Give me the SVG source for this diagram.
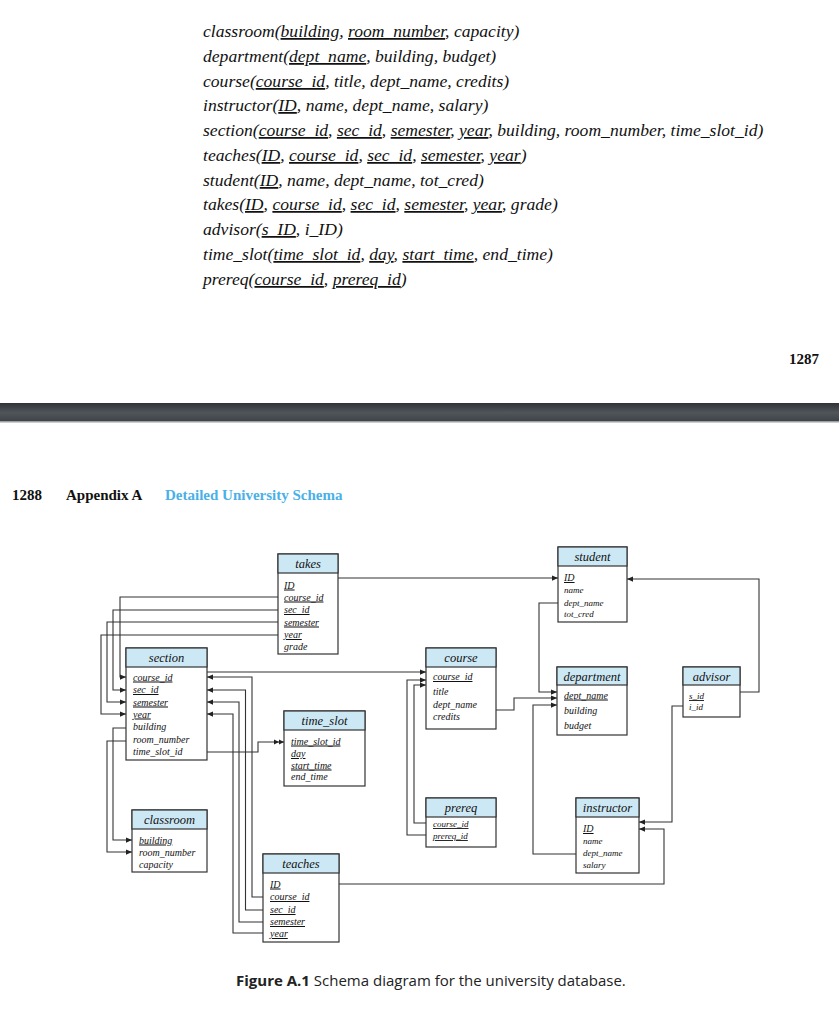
<svg xmlns="http://www.w3.org/2000/svg" width="839" height="1024" viewBox="0 0 839 1024">
<defs>
<style>
.rel{font-family:"Liberation Serif",serif;font-style:italic;font-size:17.6px;fill:#111}
.u{text-decoration:underline}
.hd{font-family:"Liberation Serif",serif;font-style:italic;font-size:12.5px;fill:#111;text-anchor:middle}
.row{font-family:"Liberation Serif",serif;font-style:italic;font-size:10px;fill:#111}
.box{fill:#fff;stroke:#333;stroke-width:1.2}
.hbox{fill:#cde8f5;stroke:#333;stroke-width:1.2}
.c{fill:none;stroke:#333;stroke-width:1.1}
.pg{font-family:"Liberation Serif",serif;font-weight:bold;font-size:15px;fill:#111}
</style>
<marker id="a" viewBox="0 0 8 8" refX="8" refY="4" markerWidth="6" markerHeight="6" orient="auto" markerUnits="userSpaceOnUse"><path d="M0,0.5L8,4L0,7.5z" fill="#222"/></marker>
<marker id="aa" viewBox="0 0 14 8" refX="14" refY="4" markerWidth="10" markerHeight="6" orient="auto" markerUnits="userSpaceOnUse"><path d="M0,0.5L7,4L0,7.5zM7,0.5L14,4L7,7.5z" fill="#222"/></marker>
<linearGradient id="band" x1="0" y1="0" x2="0" y2="1"><stop offset="0" stop-color="#2f3236"/><stop offset="0.5" stop-color="#50555a"/><stop offset="1" stop-color="#3e4246"/></linearGradient>
</defs>
<rect width="839" height="1024" fill="#fff"/>
<g id="relations">
<text class="rel" x="203" y="37">classroom(<tspan class="u">building</tspan>, <tspan class="u">room_number</tspan>, capacity)</text>
<text class="rel" x="203" y="62">department(<tspan class="u">dept_name</tspan>, building, budget)</text>
<text class="rel" x="203" y="87">course(<tspan class="u">course_id</tspan>, title, dept_name, credits)</text>
<text class="rel" x="203" y="111">instructor(<tspan class="u">ID</tspan>, name, dept_name, salary)</text>
<text class="rel" x="203" y="136">section(<tspan class="u">course_id</tspan>, <tspan class="u">sec_id</tspan>, <tspan class="u">semester</tspan>, <tspan class="u">year</tspan>, building, room_number, time_slot_id)</text>
<text class="rel" x="203" y="161">teaches(<tspan class="u">ID</tspan>, <tspan class="u">course_id</tspan>, <tspan class="u">sec_id</tspan>, <tspan class="u">semester</tspan>, <tspan class="u">year</tspan>)</text>
<text class="rel" x="203" y="186">student(<tspan class="u">ID</tspan>, name, dept_name, tot_cred)</text>
<text class="rel" x="203" y="210">takes(<tspan class="u">ID</tspan>, <tspan class="u">course_id</tspan>, <tspan class="u">sec_id</tspan>, <tspan class="u">semester</tspan>, <tspan class="u">year</tspan>, grade)</text>
<text class="rel" x="203" y="235">advisor(<tspan class="u">s_ID</tspan>, i_ID)</text>
<text class="rel" x="203" y="260">time_slot(<tspan class="u">time_slot_id</tspan>, <tspan class="u">day</tspan>, <tspan class="u">start_time</tspan>, end_time)</text>
<text class="rel" x="203" y="285">prereq(<tspan class="u">course_id</tspan>, <tspan class="u">prereq_id</tspan>)</text>
</g>
<text class="pg" x="819" y="364" text-anchor="end">1287</text>
<rect x="0" y="403" width="839" height="19" fill="url(#band)"/>
<rect x="0" y="421" width="839" height="1.5" fill="#9aa0a6"/>
<text class="pg" x="12" y="500">1288</text>
<text class="pg" x="66" y="500">Appendix A</text>
<text class="pg" x="165" y="500" fill="#4ab0e8" style="fill:#4ab0e8">Detailed University Schema</text>

<g id="connectors">
<path class="c" d="M338,578H558" marker-end="url(#a)"/>
<path class="c" d="M278,597H120V677H126" marker-end="url(#a)"/>
<path class="c" d="M278,610H113V690H126" marker-end="url(#a)"/>
<path class="c" d="M278,622H107V702H126" marker-end="url(#a)"/>
<path class="c" d="M278,635H101V714H126" marker-end="url(#a)"/>
<path class="c" d="M207,672H426" marker-end="url(#a)"/>
<path class="c" d="M263,897H252V677H207" marker-end="url(#a)"/>
<path class="c" d="M263,910H245.5V690H207" marker-end="url(#a)"/>
<path class="c" d="M263,922H239V702H207" marker-end="url(#a)"/>
<path class="c" d="M263,933H233V714H207" marker-end="url(#a)"/>
<path class="c" d="M126,728H113V840H132" marker-end="url(#a)"/>
<path class="c" d="M126,741H107V852H132" marker-end="url(#a)"/>
<path class="c" d="M207,752H258V742H284" marker-end="url(#aa)"/>
<path class="c" d="M426,823H414V685H426" marker-end="url(#a)"/>
<path class="c" d="M426,835H407V680H426" marker-end="url(#a)"/>
<path class="c" d="M496,710H514V698H557" marker-end="url(#a)"/>
<path class="c" d="M558,603H539V692H557" marker-end="url(#a)"/>
<path class="c" d="M576,854H533V705H557" marker-end="url(#a)"/>
<path class="c" d="M740,692H759V579H627" marker-end="url(#a)"/>
<path class="c" d="M683,706H672V822H639" marker-end="url(#a)"/>
<path class="c" d="M339,884H664V829H639" marker-end="url(#a)"/>
</g>

<g id="takes">
<rect class="box" x="278" y="554" width="60" height="100"/>
<rect class="hbox" x="278" y="554" width="60" height="19"/>
<text class="hd" x="308" y="568">takes</text>
<text class="row" x="284" y="588.5"><tspan class="u">ID</tspan></text>
<text class="row" x="284" y="600.5"><tspan class="u">course_id</tspan></text>
<text class="row" x="284" y="613"><tspan class="u">sec_id</tspan></text>
<text class="row" x="284" y="625.5"><tspan class="u">semester</tspan></text>
<text class="row" x="284" y="638"><tspan class="u">year</tspan></text>
<text class="row" x="284" y="650">grade</text>
</g>
<g id="section">
<rect class="box" x="126" y="648" width="81" height="112"/>
<rect class="hbox" x="126" y="648" width="81" height="19"/>
<text class="hd" x="166.5" y="662">section</text>
<text class="row" x="133" y="680.5"><tspan class="u">course_id</tspan></text>
<text class="row" x="133" y="693"><tspan class="u">sec_id</tspan></text>
<text class="row" x="133" y="705.5"><tspan class="u">semester</tspan></text>
<text class="row" x="133" y="717.5"><tspan class="u">year</tspan></text>
<text class="row" x="133" y="730">building</text>
<text class="row" x="133" y="742.5">room_number</text>
<text class="row" x="133" y="755">time_slot_id</text>
</g>
<g id="time_slot">
<rect class="box" x="284" y="711" width="81" height="75"/>
<rect class="hbox" x="284" y="711" width="81" height="19"/>
<text class="hd" x="324.5" y="725">time_slot</text>
<text class="row" x="291" y="744.5"><tspan class="u">time_slot_id</tspan></text>
<text class="row" x="291" y="757"><tspan class="u">day</tspan></text>
<text class="row" x="291" y="768.5"><tspan class="u">start_time</tspan></text>
<text class="row" x="291" y="780">end_time</text>
</g>
<g id="student">
<rect class="box" x="558" y="547" width="69" height="75"/>
<rect class="hbox" x="558" y="547" width="69" height="19"/>
<text class="hd" x="592.5" y="561">student</text>
<text class="row" x="564" y="581"><tspan class="u">ID</tspan></text>
<text class="row" x="564" y="593" style="font-size:9px">name</text>
<text class="row" x="564" y="606" style="font-size:9px">dept_name</text>
<text class="row" x="564" y="617" style="font-size:9px">tot_cred</text>
</g>
<g id="course">
<rect class="box" x="426" y="648" width="70" height="81"/>
<rect class="hbox" x="426" y="648" width="70" height="19"/>
<text class="hd" x="461" y="662">course</text>
<text class="row" x="433" y="680"><tspan class="u">course_id</tspan></text>
<text class="row" x="433" y="695">title</text>
<text class="row" x="433" y="707.5">dept_name</text>
<text class="row" x="433" y="720">credits</text>
</g>
<g id="department">
<rect class="box" x="557" y="667" width="70" height="68"/>
<rect class="hbox" x="557" y="667" width="70" height="18"/>
<text class="hd" x="592" y="681">department</text>
<text class="row" x="564" y="698.5"><tspan class="u">dept_name</tspan></text>
<text class="row" x="564" y="714">building</text>
<text class="row" x="564" y="728.5">budget</text>
</g>
<g id="advisor">
<rect class="box" x="683" y="667" width="57" height="50"/>
<rect class="hbox" x="683" y="667" width="57" height="18"/>
<text class="hd" x="711.5" y="681">advisor</text>
<text class="row" x="689" y="699" style="font-size:9px"><tspan class="u">s_id</tspan></text>
<text class="row" x="689" y="710" style="font-size:9px">i_id</text>
</g>
<g id="classroom">
<rect class="box" x="132" y="810" width="75" height="62"/>
<rect class="hbox" x="132" y="810" width="75" height="19"/>
<text class="hd" x="169.5" y="824">classroom</text>
<text class="row" x="139" y="843.5"><tspan class="u">building</tspan></text>
<text class="row" x="139" y="855.5">room_number</text>
<text class="row" x="139" y="867.5">capacity</text>
</g>
<g id="teaches">
<rect class="box" x="263" y="854" width="76" height="88"/>
<rect class="hbox" x="263" y="854" width="76" height="19"/>
<text class="hd" x="301" y="868">teaches</text>
<text class="row" x="270" y="887.5"><tspan class="u">ID</tspan></text>
<text class="row" x="270" y="900"><tspan class="u">course_id</tspan></text>
<text class="row" x="270" y="913"><tspan class="u">sec_id</tspan></text>
<text class="row" x="270" y="925"><tspan class="u">semester</tspan></text>
<text class="row" x="270" y="937"><tspan class="u">year</tspan></text>
</g>
<g id="prereq">
<rect class="box" x="426" y="798" width="70" height="49"/>
<rect class="hbox" x="426" y="798" width="70" height="19"/>
<text class="hd" x="461" y="812">prereq</text>
<text class="row" x="433" y="827" style="font-size:9px"><tspan class="u">course_id</tspan></text>
<text class="row" x="433" y="839" style="font-size:9px"><tspan class="u">prereq_id</tspan></text>
</g>
<g id="instructor">
<rect class="box" x="576" y="798" width="63" height="75"/>
<rect class="hbox" x="576" y="798" width="63" height="19"/>
<text class="hd" x="607.5" y="812">instructor</text>
<text class="row" x="583" y="832"><tspan class="u">ID</tspan></text>
<text class="row" x="583" y="844" style="font-size:9px">name</text>
<text class="row" x="583" y="856" style="font-size:9px">dept_name</text>
<text class="row" x="583" y="868" style="font-size:9px">salary</text>
</g>
<text x="236" y="986" style="font-family:'Open Sans','Liberation Sans',sans-serif;font-size:15px;fill:#222"><tspan font-weight="bold">Figure A.1</tspan>  Schema diagram for the university database.</text>
</svg>
